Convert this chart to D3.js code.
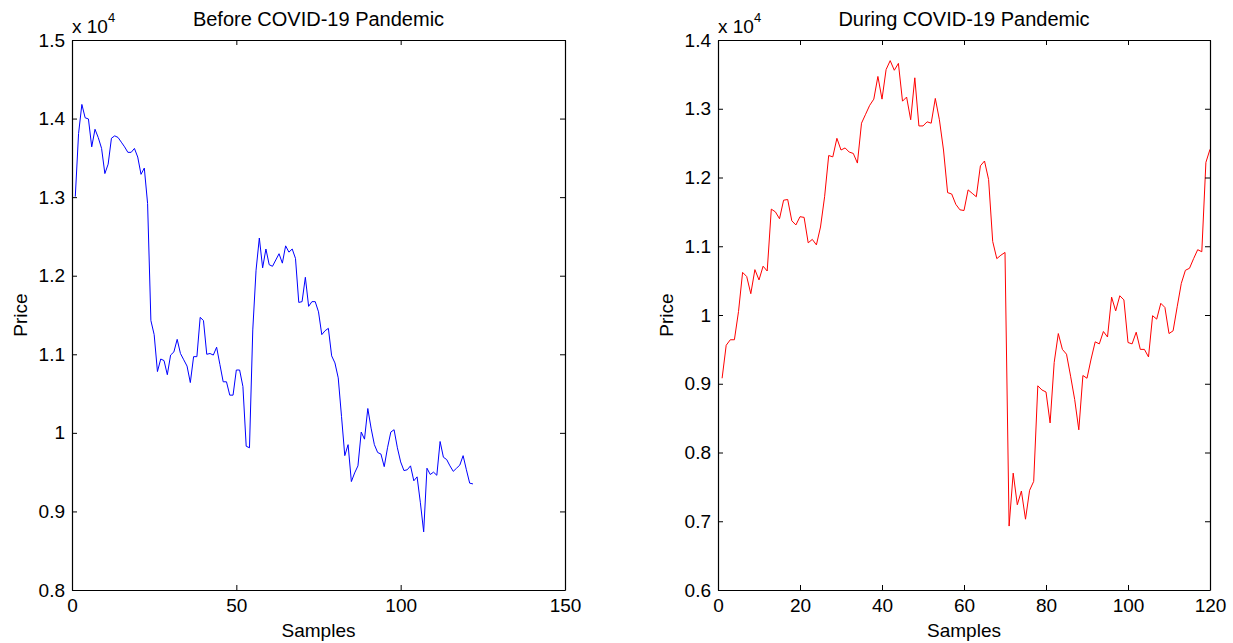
<!DOCTYPE html>
<html>
<head>
<meta charset="utf-8">
<script src="https://cdn.jsdelivr.net/npm/d3@7"></script>
<style>
  body { margin: 0; background: #fff; }
  svg text { font-family: "Liberation Sans", Arial, sans-serif; fill: #000; }
</style>
</head>
<body>
<div id="chart"></div>
<script>
// prices (index 1..n)
let beforePrice = [13006, 13810, 14180, 14010, 13995, 13640, 13864, 13757, 13620, 13300,
  13420, 13750, 13780, 13760, 13700, 13640, 13570, 13570, 13620, 13510,
  13290, 13370, 12920, 11430, 11250, 10780, 10940, 10920, 10740, 10990,
  11030, 11190, 11010, 10930, 10850, 10640, 10970, 10970, 11470, 11430,
  11000, 11010, 10990, 11090, 10870, 10650, 10650, 10480, 10480, 10800,
  10800, 10590, 9830, 9810, 11310, 12070, 12480, 12100, 12340, 12140,
  12120, 12200, 12280, 12160, 12380, 12300, 12340, 12220, 11660, 11670,
  11980, 11610, 11670, 11670, 11540, 11250, 11300, 11330, 10980, 10890,
  10700, 10210, 9710, 9850, 9380, 9490, 9580, 10010, 9920, 10310,
  10060, 9850, 9750, 9730, 9570, 9810, 10010, 10040, 9810, 9630,
  9520, 9530, 9580, 9390, 9440, 9110, 8740, 9550, 9470, 9500,
  9460, 9890, 9690, 9660, 9580, 9510, 9550, 9590, 9710, 9530,
  9360, 9350];

let duringPrice = [9080, 9560, 9640, 9640, 10050, 10620, 10560, 10310, 10660, 10510,
  10710, 10640, 11540, 11500, 11400, 11670, 11680, 11370, 11310, 11430,
  11420, 11050, 11100, 11020, 11280, 11720, 12320, 12300, 12570, 12400,
  12430, 12370, 12350, 12210, 12790, 12920, 13050, 13140, 13470, 13140,
  13570, 13700, 13560, 13660, 13110, 13170, 12840, 13450, 12750, 12750,
  12810, 12790, 13150, 12840, 12400, 11780, 11760, 11610, 11530, 11520,
  11820, 11770, 11720, 12170, 12240, 11970, 11070, 10820, 10870, 10910,
  6930, 7700, 7240, 7440, 7030, 7450, 7580, 8970, 8910, 8880,
  8430, 9310, 9730, 9500, 9430, 9110, 8770, 8330, 9120, 9080,
  9360, 9610, 9580, 9760, 9680, 10260, 10060, 10280, 10220, 9600,
  9580, 9750, 9500, 9500, 9390, 9990, 9940, 10170, 10110, 9730,
  9770, 10120, 10460, 10650, 10680, 10820, 10950, 10920, 12220, 12410];

let beforeXTicks = [0, 50, 100, 150];
let beforeYTicks = [8000, 9000, 10000, 11000, 12000, 13000, 14000, 15000];
let duringXTicks = [0, 20, 40, 60, 80, 100, 120];
let duringYTicks = [6000, 7000, 8000, 9000, 10000, 11000, 12000, 13000, 14000];

let W = 1233, H = 643;
let svg = d3.select('#chart').append('svg')
  .attr('width', W).attr('height', H);

function drawPanel(cfg) {
  let w = cfg.right - cfg.left, h = cfg.bottom - cfg.top;
  let g = svg.append('g').attr('transform', 'translate(' + cfg.left + ',' + cfg.top + ')');

  let x = d3.scaleLinear().domain(cfg.xDomain).range([0, w]);
  let y = d3.scaleLinear().domain(cfg.yDomain).range([h, 0]);
  let fmt = v => String(+(v / 10000).toFixed(1));

  let line = d3.line()
    .x((d, i) => x(i + 1))
    .y(d => y(d));

  g.append('path')
    .datum(cfg.data)
    .attr('fill', 'none')
    .attr('stroke', cfg.color)
    .attr('stroke-width', 1)
    .attr('d', line);

  // matlab style box: inward ticks on all four sides
  let axes = [
    { a: d3.axisBottom(x).tickValues(cfg.xTicks).tickFormat(d3.format('d')), t: 'translate(0,' + h + ')', labels: true },
    { a: d3.axisTop(x).tickValues(cfg.xTicks).tickFormat(''), t: null },
    { a: d3.axisLeft(y).tickValues(cfg.yTicks).tickFormat(fmt), t: null, labels: true },
    { a: d3.axisRight(y).tickValues(cfg.yTicks).tickFormat(''), t: 'translate(' + w + ',0)' }
  ];
  axes.forEach(function(ax) {
    let el = g.append('g')
      .call(ax.a.tickSizeInner(-5).tickSizeOuter(0).tickPadding(ax.a === axes[0].a ? 9 : 7));
    if (ax.t) el.attr('transform', ax.t);
    el.select('.domain').attr('stroke', '#000').attr('stroke-width', 1.2);
    el.selectAll('.tick line').attr('stroke', '#000');
    el.selectAll('text').style('font-size', '19px').attr('fill', '#000');
  });

  g.append('text')
    .attr('x', w / 2).attr('y', -14)
    .attr('text-anchor', 'middle')
    .style('font-size', '20px')
    .text(cfg.title);

  let exp = g.append('text').attr('x', 0).attr('y', -7).style('font-size', '19px');
  exp.append('tspan').text('x 10');
  exp.append('tspan').attr('dy', -11).style('font-size', '13px').text('4');

  g.append('text')
    .attr('x', w / 2).attr('y', h + 47)
    .attr('text-anchor', 'middle')
    .style('font-size', '19px')
    .text('Samples');

  g.append('text')
    .attr('transform', 'translate(' + (-45) + ',' + (h / 2) + ') rotate(-90)')
    .attr('text-anchor', 'middle')
    .style('font-size', '19px')
    .text('Price');
}

drawPanel({
  left: 72, right: 565, top: 40, bottom: 590,
  xDomain: [0, 150], yDomain: [8000, 15000],
  xTicks: beforeXTicks, yTicks: beforeYTicks,
  data: beforePrice, color: '#0000ff',
  title: 'Before COVID-19 Pandemic'
});

drawPanel({
  left: 718, right: 1210, top: 40, bottom: 590,
  xDomain: [0, 120], yDomain: [6000, 14000],
  xTicks: duringXTicks, yTicks: duringYTicks,
  data: duringPrice, color: '#ff0000',
  title: 'During COVID-19 Pandemic'
});
</script>
</body>
</html>
